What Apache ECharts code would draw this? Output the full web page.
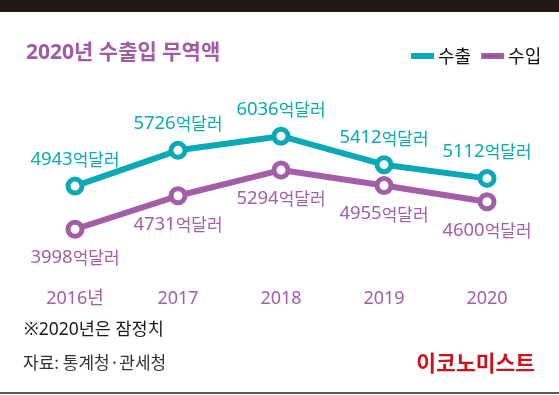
<!DOCTYPE html>
<html>
<head>
<meta charset="utf-8">
<script src="https://cdn.jsdelivr.net/npm/echarts@6/dist/echarts.min.js"></script>
<style>
html,body{margin:0;padding:0;background:#fff;}
#chart{width:559px;height:395px;}
</style>
</head>
<body>
<div id="chart"></div>
<script>
var categories = ['2016년', '2017', '2018', '2019', '2020'];
var exportValues = [4943, 5726, 6036, 5412, 5112];
var importValues = [3998, 4731, 5294, 4955, 4600];
var seriesNames = ['수출', '수입'];
var titleText = '2020년 수출입 무역액';
var noteText = '※2020년은 잠정치';
var sourceText = '자료: 통계청·관세청';
var brandText = '이코노미스트';
var unitText = '억달러';

var TEAL = '#0aa9b5';
var PURPLE = '#a35ea7';
var FONT = '"Noto Sans", "Noto Sans CJK KR", sans-serif';
var KFONT = '"Noto Sans CJK KR", "Noto Sans", sans-serif';

var chart = echarts.init(document.getElementById('chart'), null, {renderer: 'canvas'});

function labelCfg(color, pos, dist) {
  return {
    show: true,
    position: pos,
    distance: dist,
    formatter: function (p) { return '{n|' + p.value + '}{k|' + unitText + '}'; },
    rich: {
      n: {fontSize: 18.5, fontFamily: FONT, color: color, lineHeight: 20},
      k: {fontSize: 17, fontFamily: KFONT, color: color, lineHeight: 20}
    }
  };
}

var option = {
  backgroundColor: '#fff',
  animation: false,
  title: {
    text: titleText,
    left: 21,
    top: 38,
    textStyle: {fontSize: 21, fontWeight: 'bold', color: '#a05ba5', fontFamily: FONT}
  },
  legend: {
    left: 406,
    top: 42,
    itemWidth: 21,
    itemHeight: 4,
    itemGap: 10,
    icon: 'rect',
    textStyle: {fontSize: 18, color: '#111', fontFamily: KFONT, padding: [0, 0, 0, 0]},
    data: [
      {name: seriesNames[0], itemStyle: {color: TEAL}},
      {name: seriesNames[1], itemStyle: {color: '#93509a'}}
    ]
  },
  grid: {left: 75, right: 72, top: 115, bottom: 143},
  xAxis: {
    type: 'category',
    data: categories,
    boundaryGap: false,
    axisLine: {show: false},
    axisTick: {show: false},
    splitLine: {show: false},
    axisLabel: {margin: 38, fontSize: 18, color: '#a35ea7', fontFamily: FONT}
  },
  yAxis: {
    type: 'value',
    min: 3500,
    max: 6500,
    show: false,
    splitLine: {show: false}
  },
  series: [
    {
      name: seriesNames[0],
      type: 'line',
      data: exportValues,
      symbol: 'circle',
      symbolSize: 14,
      lineStyle: {color: TEAL, width: 6},
      itemStyle: {color: '#fff', borderColor: TEAL, borderWidth: 5},
      label: labelCfg(TEAL, 'top', 7),
      z: 3
    },
    {
      name: seriesNames[1],
      type: 'line',
      data: importValues,
      symbol: 'circle',
      symbolSize: 14,
      lineStyle: {color: PURPLE, width: 6},
      itemStyle: {color: '#fff', borderColor: PURPLE, borderWidth: 5},
      label: labelCfg(PURPLE, 'bottom', 9),
      z: 2
    }
  ],
  graphic: [
    {type: 'rect', left: 0, top: 0, shape: {width: 559, height: 12}, style: {fill: '#231815'}},
    {type: 'rect', left: 0, top: 392, shape: {width: 559, height: 2}, style: {fill: '#5a5a5a'}},
    {type: 'text', left: 24, top: 321, style: {text: noteText, fontSize: 17.5, fill: '#1a1a1a', fontFamily: FONT}},
    {type: 'text', left: 23, top: 354, style: {text: sourceText, fontSize: 17, fill: '#333', fontFamily: KFONT}},
    {type: 'text', right: 24, top: 352, style: {text: brandText, fontSize: 21.5, fontWeight: 'bold', fill: '#c8161e', fontFamily: KFONT}}
  ]
};
chart.setOption(option);
</script>
</body>
</html>
